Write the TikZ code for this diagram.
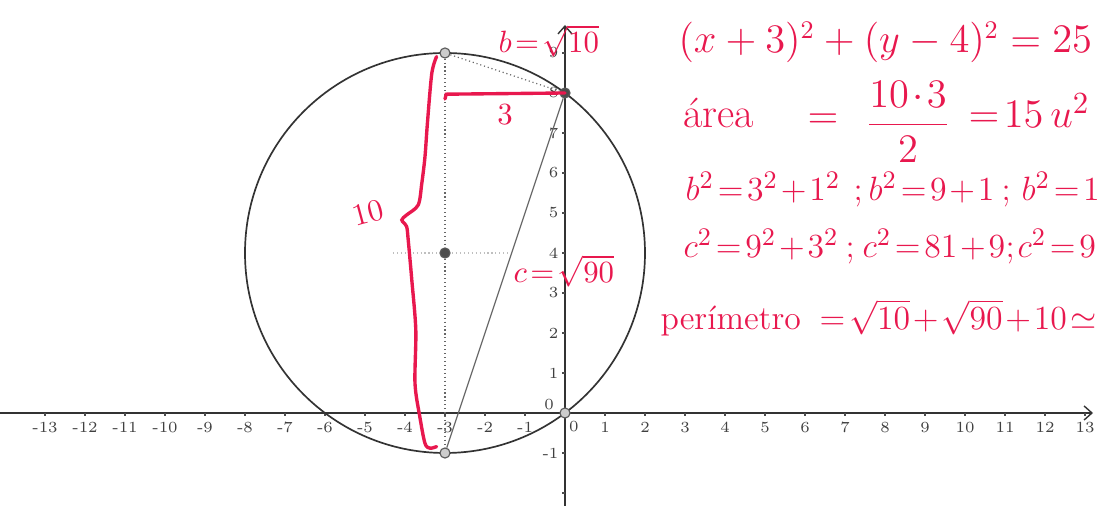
\documentclass[tikz,border=0pt]{standalone}
\usepackage{amsmath,amssymb}
\usepackage{fontspec}
\usepackage{xcolor}
\usetikzlibrary{arrows.meta,calc,positioning}
\definecolor{tinta}{RGB}{232,24,78}
\newcommand{\apretado}{\medmuskip=1.5mu\relax\thickmuskip=2mu\relax}
\tikzset{
  pto/.style={circle,inner sep=0pt,minimum size=3.6pt,draw=black!65,fill=black!20,line width=0.4pt},
  ptoscuro/.style={pto,fill=black!70},
  marca/.style={font=\fontsize{5.5}{6}\selectfont,text=black!75,inner sep=1pt},
  mano/.style={text=tinta,inner sep=0pt,anchor=base west,font=\fontsize{13}{15}\selectfont\apretado},
  manogrande/.style={mano,font=\fontsize{15}{17}\selectfont\apretado},
  manochica/.style={mano,font=\fontsize{11}{13}\selectfont\apretado}
}

\begin{document}
\begin{tikzpicture}[x=0.5cm,y=0.5cm]
  \useasboundingbox (-14.125,-2.325) rectangle (13.3,10.325);
  % ejes
  \draw[-{Straight Barb[length=2.8pt,width=5pt]},black!80,line width=0.5pt] (-14.125,0)--(13.2,0);
  \draw[-{Straight Barb[length=2.8pt,width=5pt]},black!80,line width=0.5pt] (0,-2.325)--(0,9.7);
  \foreach \x in {-13,...,-1,1,2,...,13}{\draw[black!70] (\x,0)--(\x,-0.08) node[marca,below=1pt] (tx\x){\x};}
  \foreach \y in {-1,1,2,...,9}{\draw[black!70] (0,\y)--(-0.08,\y) node[marca,left] (ty\y){\y};}
  \draw[black!70] (0,-2)--(-0.08,-2);
  \node[marca] (cx) at (0.22,-0.35){0};
  \node[marca] (cy) at (-0.4,0.22){0};
  % circunferencia y triangulo
  \draw[black!80,line width=0.6pt] (-3,4) circle (5);
  \draw[black!25,densely dotted] (-4.3,4)--(-1.4,4);
  \node[pto] (A) at (-3,9){};
  \node[ptoscuro] (B) at (0,8){};
  \node[pto] (C) at (-3,-1){};
  \node[pto] (O) at (0,0){};
  \node[ptoscuro] (M) at (-3,4){};
  \draw[black!60,densely dotted] (A)--(M)--(C);
  \draw[black!60,densely dotted] (A)--(B);
  \draw[black!60] (B)--(C);
  % anotaciones a mano
  \draw[tinta,line width=1.2pt,line cap=round] plot[smooth] coordinates {(-3.21,8.91) (-3.33,8.49) (-3.44,7.24) (-3.5,6.41) (-3.58,5.74) (-3.67,5.2) (-3.96,4.95) (-4.08,4.825) (-3.96,4.66) (-3.92,4.33) (-3.83,3.325) (-3.73,2.075) (-3.75,0.74) (-3.63,-0.09) (-3.5,-0.76) (-3.375,-0.88) (-3.21,-0.84)};
  \coordinate (t3) at (-3,7.85);
  \draw[tinta,line width=1.2pt,line cap=round] (t3)--(-2.97,7.97)--(B.center);
  \node[manochica] (lb) at (-1.675,9.0){$b=\sqrt{10}$};
  \node[manochica,anchor=center] (l3) at (-1.5,7.45){$3$};
  \node[manochica,anchor=center,rotate=15] (l10) at (-4.93,5.0){$10$};
  \node[manochica] (lc) at (-1.3,3.25){$c=\sqrt{90}$};
  % ecuacion y calculos
  \node[mano,font=\fontsize{13.5}{15}\selectfont] (ec) at (2.825,9.0){$(x+3)^2+(y-4)^2=25$};
  \node[manogrande] (area) at (2.95,7.125){área};
  \node[manogrande,anchor=center] (igual) at (6.45,7.3){$=$};
  \node[manogrande,anchor=center] (frac) at (8.575,7.28){$\dfrac{10\cdot3}{2}$};
  \node[manogrande] (quince) at (10.075,7.125){$=15\,u^2$};
  \foreach \n/\px/\tx in {b1/3.0/{b^2=3^2+1^2},p1/7.2/{;},b2/7.575/{b^2=9+1},p2/10.9/{;},b3/11.4/{b^2=1}}{
    \node[mano] (\n) at (\px,5.3){$\tx$};}
  \foreach \n/\px/\tx in {c1/2.95/{c^2=9^2+3^2},q1/7.0/{;},c2/7.425/{c^2=81+9},q2/11.0/{;},c3/11.3/{c^2=9}}{
    \node[mano] (\n) at (\px,3.875){$\tx$};}
  \node[mano,font=\fontsize{12}{14}\selectfont] (per) at (2.375,2.075){perímetro};
  \node[mano,font=\fontsize{12}{14}\selectfont\apretado] (pval) at (6.35,2.075){$=\sqrt{10}+\sqrt{90}+10\simeq$};
\end{tikzpicture}
\end{document}
